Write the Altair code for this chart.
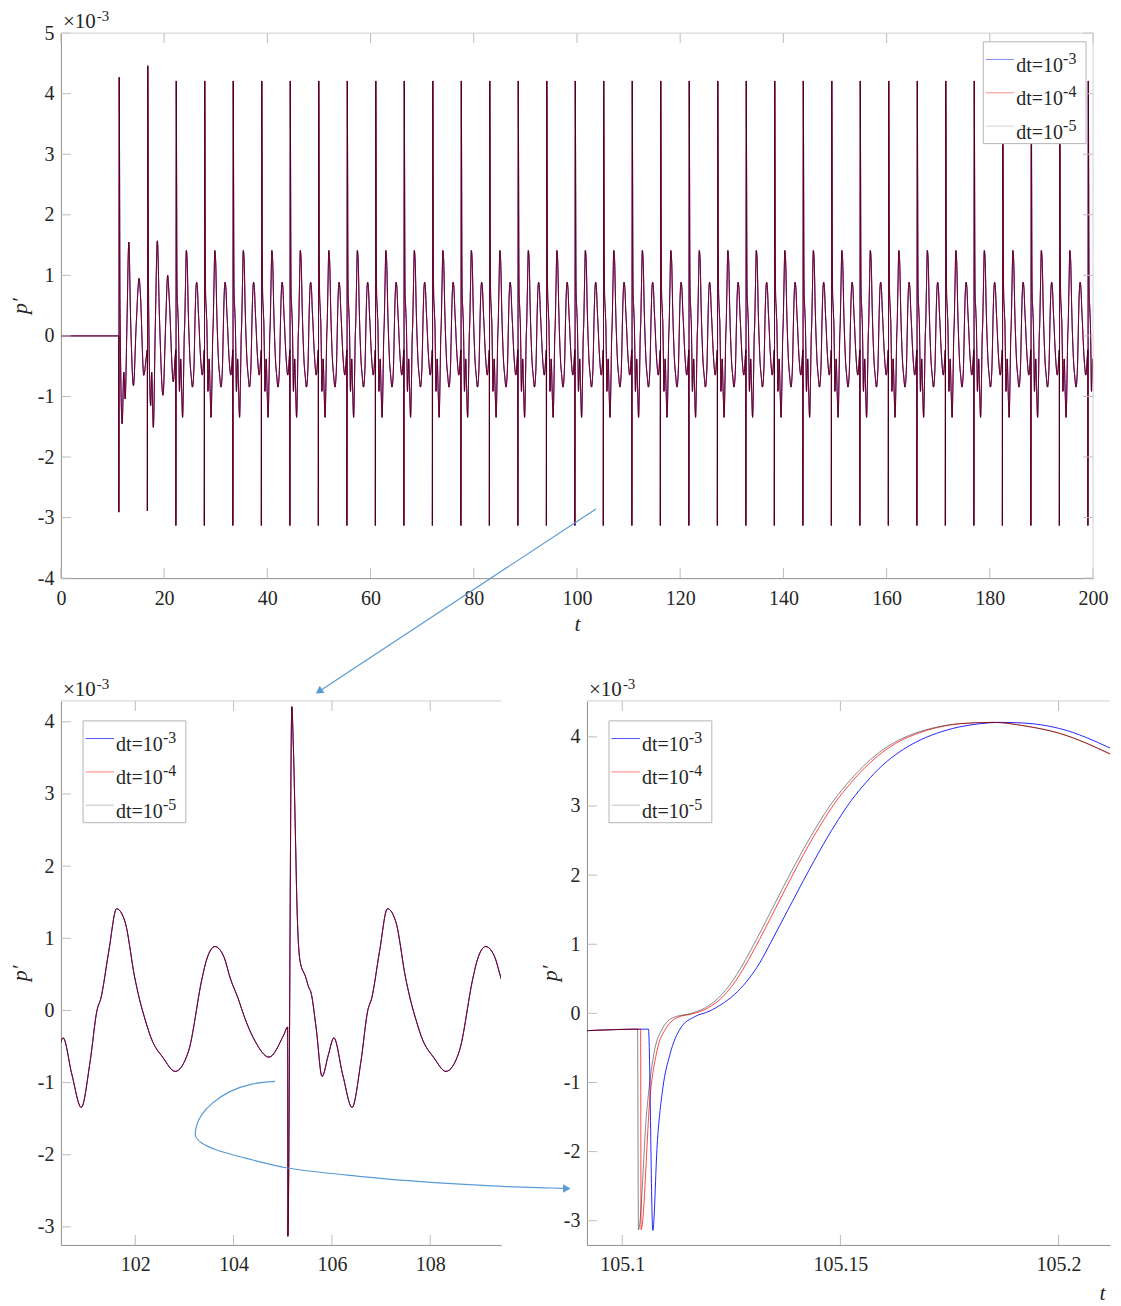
import altair as alt
import pandas as pd

# ---------------- data (pressure in units of 1e-3) ----------------
series_names = ["dt=1e-3", "dt=1e-4", "dt=1e-5"]
legend_base = "dt=10"
legend_exp = ["-3", "-4", "-5"]
sci_base = "\u00d710"
sci_exp = "-3"

# times of the large spikes (top panel)
spike_t = [11.22, 16.75, 22.27, 27.79, 33.31, 38.84, 44.36, 49.88, 55.41, 60.93,
           66.45, 71.98, 77.50, 83.02, 88.54, 94.07, 99.59, 105.10, 110.63, 116.15,
           121.67, 127.20, 132.72, 138.24, 143.77, 149.29, 154.81, 160.33, 165.86,
           171.38, 176.90, 182.43, 187.95, 193.47, 199.00]

# start of the signal (quiet part and the first two, larger, cycles)
early_t = [0.0, 11.22, 11.225, 11.30, 11.45, 11.87, 12.19, 12.45, 12.80, 13.16, 13.50,
           14.06, 14.60, 15.16, 15.40, 16.06, 16.55, 16.75, 16.755, 16.83, 17.00, 17.40,
           17.59, 17.91, 18.30, 18.69, 19.10, 19.78, 20.30, 20.69, 21.00, 21.78, 22.10]
early_p = [0.0, 0.0, -2.91, 4.27, 0.50, -1.45, -0.60, -1.04, 0.20, 1.55, 0.30,
           -0.82, 0.20, 0.95, 0.70, -0.65, -0.35, -0.23, -2.89, 4.46, 0.50, -1.15,
           -0.60, -1.51, 0.20, 1.57, 0.30, -0.98, 0.20, 1.00, 0.60, -0.76, -0.40]

# one settled cycle as read in the lower-left panel (time after a spike, value)
cycle_dt = [0.000, 0.004, 0.085, 0.112, 0.158, 0.187, 0.253, 0.362, 0.435, 0.470,
            0.580, 0.700, 0.830, 0.940, 1.120, 1.310, 1.490, 1.630, 1.710, 1.870,
            2.030, 2.200, 2.400, 2.490, 2.620, 2.730, 2.980, 3.220, 3.490, 3.770,
            3.850, 4.030, 4.220, 4.340, 4.500, 4.640, 4.850, 5.130, 5.430]
cycle_p = [-0.23, -3.13, 4.21, 3.75, 2.43, 1.51, 0.68, 0.47, 0.31, 0.26,
           -0.245, -0.915, -0.61, -0.38, -0.89, -1.344, -0.71, 0.0, 0.17, 0.82,
           1.41, 1.23, 0.45, 0.17, -0.15, -0.38, -0.66, -0.845, -0.57, 0.45,
           0.68, 0.886, 0.73, 0.45, 0.17, -0.11, -0.43, -0.647, -0.34]

# lower-right panel, one curve per time step
br_t_dt3 = [105.0919, 105.1060, 105.1070, 105.1080, 105.1093, 105.1109, 105.1134, 105.1167,
            105.1199, 105.1232, 105.1265, 105.1290, 105.1315, 105.1340, 105.1365, 105.1390,
            105.1415, 105.1440, 105.1465, 105.1495, 105.1525, 105.1560, 105.1595, 105.1635,
            105.1675, 105.1720, 105.1770, 105.1820, 105.1864, 105.1921, 105.2003, 105.2121]
br_p_dt3 = [-0.25, -0.228, -3.14, -1.90, -1.08, -0.60, -0.21, -0.045,
            0.03, 0.15, 0.32, 0.50, 0.73, 1.02, 1.32, 1.62,
            1.92, 2.21, 2.49, 2.80, 3.08, 3.35, 3.58, 3.78,
            3.93, 4.05, 4.14, 4.19, 4.21, 4.20, 4.12, 3.83]
br_t_dt4 = [105.0919, 105.1042, 105.1043, 105.1064, 105.1080, 105.1101, 105.1126, 105.1165,
            105.1197, 105.1227, 105.1252, 105.1277, 105.1302, 105.1327, 105.1352, 105.1377,
            105.1402, 105.1427, 105.1457, 105.1487, 105.1522, 105.1557, 105.1597, 105.1637,
            105.1677, 105.1726, 105.1775, 105.1852, 105.1921, 105.2003, 105.2121]
br_p_dt4 = [-0.25, -0.228, -3.13, -1.18, -0.53, -0.21, -0.06, 0.0,
            0.08, 0.22, 0.40, 0.64, 0.92, 1.22, 1.53, 1.84,
            2.14, 2.43, 2.75, 3.04, 3.32, 3.56, 3.78, 3.94,
            4.05, 4.14, 4.19, 4.21, 4.16, 4.05, 3.74]
br_t_dt5 = [105.0919, 105.1035, 105.1037, 105.1056, 105.1072, 105.1093, 105.1117, 105.1158,
            105.1190, 105.1220, 105.1245, 105.1270, 105.1295, 105.1320, 105.1345, 105.1370,
            105.1395, 105.1420, 105.1450, 105.1480, 105.1515, 105.1550, 105.1590, 105.1630,
            105.1670, 105.1720, 105.1770, 105.1848, 105.1921, 105.2003, 105.2121]
br_p_dt5 = [-0.25, -0.228, -3.13, -1.42, -0.60, -0.21, -0.06, 0.0,
            0.08, 0.22, 0.40, 0.64, 0.92, 1.22, 1.53, 1.84,
            2.14, 2.43, 2.75, 3.04, 3.32, 3.56, 3.78, 3.94,
            4.05, 4.14, 4.19, 4.21, 4.16, 4.05, 3.75]

# ticks
top_xticks = [0, 20, 40, 60, 80, 100, 120, 140, 160, 180, 200]
top_yticks = [-4, -3, -2, -1, 0, 1, 2, 3, 4, 5]
bl_xticks = [102, 104, 106, 108]
bl_yticks = [-3, -2, -1, 0, 1, 2, 3, 4]
br_xticks = [105.1, 105.15, 105.2]
br_yticks = [-3, -2, -1, 0, 1, 2, 3, 4]

# annotation arrows (in the data units of the panel they start in)
arrow1_t = [103.68, 50.0]
arrow1_p = [-2.857, -5.87]
arrow2_t = [104.843, 104.371, 103.934, 103.570, 103.352, 103.242, 103.228, 103.352,
            103.643, 104.371, 105.099, 106.554, 108.010, 109.466, 110.507, 110.78]
arrow2_p = [-0.983, -1.021, -1.122, -1.284, -1.445, -1.607, -1.745, -1.838,
            -1.931, -2.069, -2.184, -2.300, -2.383, -2.438, -2.461, -2.468]

# ---------------- styling ----------------
FONT = "Liberation Serif"
TXT = "#262626"
AXC = "#8f8f8f"
TKC = "#bdbdbd"
FRC = "#d0d0d0"
ARROW = "#5b9bd5"
LINE_COLORS = ["#0000ff", "#ff0000", "#000000"]
LINE_OPAC = [1.0, 0.86, 0.55]
LEG_TOP = ["#8a8aff", "#ff9090", "#d4d4d4"]
LEG_BOT = ["#5050ff", "#ff8080", "#c4c4c4"]

# ---------------- tables ----------------
full_t = list(early_t)
full_p = list(early_p)
for s in spike_t[2:]:
    for d, v in zip(cycle_dt, cycle_p):
        full_t.append(round(s + d, 4))
        full_p.append(v)
full_df = pd.DataFrame({"t": full_t, "p": full_p, "i": range(len(full_t))})


def mk(t, p):
    return pd.DataFrame({"t": t, "p": p, "i": range(len(t))})


br_dfs = [mk(br_t_dt3, br_p_dt3), mk(br_t_dt4, br_p_dt4), mk(br_t_dt5, br_p_dt5)]

TITLE = dict(titleFont=FONT, titleFontSize=22, titleFontStyle="italic",
             titleFontWeight="normal", titleColor=TXT)


def axis(vals, orient, pad, **kw):
    return alt.Axis(values=vals, orient=orient, ticks=False, tickSize=0, grid=False,
                    labelFont=FONT, labelFontSize=20, labelColor=TXT, labelPadding=pad,
                    labelFlush=False, labelOverlap=False, labelExpr="'' + datum.value",
                    domainColor=AXC, domainWidth=1, **kw)


def panel(line_dfs, filt, xdom, ydom, W, H, xt, yt, xtitle, ytx, leg_x, leg_y,
          leg_colors, right_frame, arrow=None, leg_dx=47):
    xs = alt.Scale(domain=xdom, nice=False, zero=False)
    ys = alt.Scale(domain=ydom, nice=False, zero=False)
    xax = axis(xt, "bottom", 10, **xtitle)
    yax = axis(yt, "left", 7, title="p\u2032", titleX=ytx, titleY=H / 2,
               titleAlign="center", titleBaseline="middle", **TITLE)

    def X(f):
        return alt.X(f, scale=xs, axis=xax)

    def Y(f):
        return alt.Y(f, scale=ys, axis=yax)

    layers = []
    for df, col, op in zip(line_dfs, LINE_COLORS, LINE_OPAC):
        ch = alt.Chart(df).mark_line(color=col, opacity=op, strokeWidth=0.85, clip=True,
                                     interpolate="monotone")
        if filt is not None:
            ch = ch.transform_filter((alt.datum.t >= filt[0]) & (alt.datum.t <= filt[1]))
        layers.append(ch.encode(x=X("t:Q"), y=Y("p:Q"), order="i:Q"))
    # inward ticks
    xtdf = pd.DataFrame({"v": xt})
    ytdf = pd.DataFrame({"v": yt})
    layers.append(alt.Chart(xtdf).mark_rule(color=TKC, strokeWidth=1).encode(
        x=X("v:Q"), y=alt.value(H), y2=alt.value(H - 10)))
    layers.append(alt.Chart(xtdf).mark_rule(color=TKC, strokeWidth=1).encode(
        x=X("v:Q"), y=alt.value(0), y2=alt.value(10)))
    layers.append(alt.Chart(ytdf).mark_rule(color=TKC, strokeWidth=1).encode(
        y=Y("v:Q"), x=alt.value(0), x2=alt.value(10)))
    if right_frame:
        layers.append(alt.Chart(ytdf).mark_rule(color=TKC, strokeWidth=1).encode(
            y=Y("v:Q"), x=alt.value(W), x2=alt.value(W - 10)))
    # frame lines (top, right)
    layers.append(alt.Chart().mark_rule(color=FRC, strokeWidth=1).encode(
        x=alt.value(0), x2=alt.value(W), y=alt.value(0)))
    if right_frame:
        layers.append(alt.Chart().mark_rule(color=FRC, strokeWidth=1).encode(
            x=alt.value(W), y=alt.value(0), y2=alt.value(H)))
    # arrows
    if arrow is not None:
        adf, hdf, shape, ang, interp = arrow
        layers.append(alt.Chart(adf).mark_line(color=ARROW, strokeWidth=1.2, clip=False,
                                               interpolate=interp).encode(
            x=X("t:Q"), y=Y("p:Q"), order="i:Q"))
        layers.append(alt.Chart(hdf).mark_point(shape=shape, filled=True, size=75,
                                                color=ARROW, opacity=1, angle=ang,
                                                clip=False).encode(
            x=X("t:Q"), y=Y("p:Q")))
    # legend
    bw, bh = 103, 102
    layers.append(alt.Chart().mark_rect(fill="white", stroke="#b5b5b5", strokeWidth=1).encode(
        x=alt.value(leg_x), x2=alt.value(leg_x + bw), y=alt.value(leg_y),
        y2=alt.value(leg_y + bh)))
    for k in range(3):
        ly = leg_y + 17.7 + 33.4 * k
        layers.append(alt.Chart().mark_rule(color=leg_colors[k], strokeWidth=1).encode(
            x=alt.value(leg_x + 2.5), x2=alt.value(leg_x + 31), y=alt.value(ly)))
        layers.append(alt.Chart().mark_text(align="left", baseline="alphabetic", font=FONT,
                                            fontSize=20, color=TXT).encode(
            x=alt.value(leg_x + 33), y=alt.value(ly + 12.5), text=alt.value(legend_base)))
        layers.append(alt.Chart().mark_text(align="left", baseline="alphabetic", font=FONT,
                                            fontSize=16, color=TXT).encode(
            x=alt.value(leg_x + 33 + leg_dx), y=alt.value(ly + 4.5),
            text=alt.value(legend_exp[k])))
    # x10^-3 factor
    layers.append(alt.Chart().mark_text(align="left", baseline="alphabetic", font=FONT,
                                        fontSize=21, color=TXT).encode(
        x=alt.value(2), y=alt.value(-5), text=alt.value(sci_base)))
    layers.append(alt.Chart().mark_text(align="left", baseline="alphabetic", font=FONT,
                                        fontSize=15, color=TXT).encode(
        x=alt.value(36), y=alt.value(-12), text=alt.value(sci_exp)))
    return alt.layer(*layers).properties(width=W, height=H)


a1 = mk(arrow1_t, arrow1_p)
h1 = mk(arrow1_t[-1:], arrow1_p[-1:])
a2 = mk(arrow2_t, arrow2_p)
h2 = mk(arrow2_t[-1:], arrow2_p[-1:])

top = panel([full_df, full_df, full_df], None, [0, 200], [-4, 5], 1034, 546,
            top_xticks, top_yticks,
            dict(title="t", titleX=517, titleY=52, titleAlign="center",
                 titleBaseline="alphabetic", **TITLE),
            -41, 924, 8.7, LEG_TOP, True,
            arrow=(a1, h1, "triangle-up", 236.6, "linear"))

bl = panel([full_df, full_df, full_df], (100.0, 110.0), [100.486, 109.443], [-3.25, 4.29],
           441, 545, bl_xticks, bl_yticks, dict(title=None), -41, 22.2, 20, LEG_BOT, False,
           arrow=(a2, h2, "triangle-right", 0, "catmull-rom"))

br = panel(br_dfs, None, [105.0919, 105.2118], [-3.35, 4.52], 524, 545,
           br_xticks, br_yticks,
           dict(title="t", titleX=516, titleY=55, titleAlign="center",
                titleBaseline="alphabetic", **TITLE),
           -38, 22.1, 20, LEG_BOT, False)

chart = alt.vconcat(top, alt.hconcat(bl, br, spacing=86, bounds="flush"),
                    spacing=123, bounds="flush")
chart = chart.configure_view(strokeWidth=0).properties(
    padding={"left": 1, "top": 0, "right": 2, "bottom": 0}, background="white")

chart.save("out.html", embed_options={"renderer": "svg", "actions": False})
